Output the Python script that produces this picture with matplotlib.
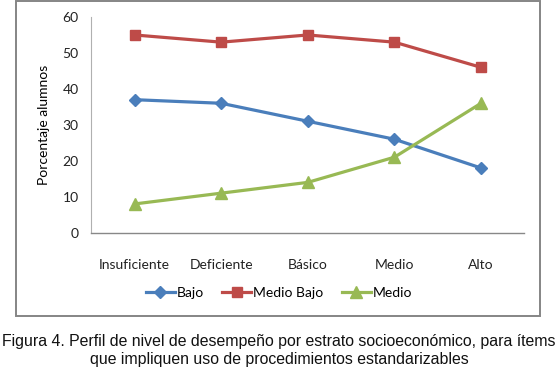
import matplotlib
matplotlib.use("Agg")
import matplotlib.pyplot as plt
from matplotlib.patches import Rectangle

categories = ["Insuficiente", "Deficiente", "Básico", "Medio", "Alto"]
bajo = [37, 36, 31, 26, 18]
medio_bajo = [55, 53, 55, 53, 46]
medio = [8, 11, 14, 21, 36]
y_ticks = [0, 10, 20, 30, 40, 50, 60]

FONT = ["Lato", "DejaVu Sans"]
CAP_FONT = ["Liberation Sans", "DejaVu Sans"]

fig = plt.figure(figsize=(5.58, 3.76), dpi=100)
fig.patch.set_facecolor("white")

# chart border box
fig.add_artist(Rectangle((0.0278, 0.1596), 0.9405, 0.8374, transform=fig.transFigure,
                         fill=False, edgecolor="#858585", linewidth=1.4, zorder=5))

ax = fig.add_axes([0.1636, 0.3811, 0.776, 0.5737])
x = list(range(len(categories)))
ax.plot(x, bajo, color="#4A7EBB", lw=2.3, marker="D", ms=6.5, label="Bajo", clip_on=False)
ax.plot(x, medio_bajo, color="#BE4B48", lw=2.3, marker="s", ms=7.5, label="Medio Bajo", clip_on=False)
ax.plot(x, medio, color="#98B954", lw=2.3, marker="^", ms=8, label="Medio", clip_on=False)

ax.set_xlim(-0.5, len(categories) - 0.5)
ax.set_ylim(0, 60)
ax.set_yticks(y_ticks)
ax.set_xticks(x)
ax.set_xticklabels(categories)
for s in ["top", "right"]:
    ax.spines[s].set_visible(False)
ax.spines["left"].set_color("#B0B0B0")
ax.spines["bottom"].set_color("#888888")
ax.spines["left"].set_linewidth(0.8)
ax.spines["bottom"].set_linewidth(1.0)
ax.tick_params(axis="both", length=0, labelsize=10, colors="#222222")
ax.tick_params(axis="y", pad=9)
ax.tick_params(axis="x", pad=19)
for lab in ax.get_xticklabels() + ax.get_yticklabels():
    lab.set_family(FONT)
ax.set_ylabel("Porcentaje alumnos", fontsize=10, family=FONT, color="black", labelpad=9)

fig.legend(loc="center", bbox_to_anchor=(0.5, 0.2207), ncol=3, frameon=False,
           prop={"family": FONT, "size": 10}, handlelength=2.1, handletextpad=0.15,
           columnspacing=1.3)

fig.text(0.5, 0.0905, "Figura 4. Perfil de nivel de desempeño por estrato socioeconómico, para ítems",
         ha="center", va="center", fontsize=11.4, family=CAP_FONT, color="#111111")
fig.text(0.5, 0.0426, "que impliquen uso de procedimientos estandarizables",
         ha="center", va="center", fontsize=11.4, family=CAP_FONT, color="#111111")

fig.savefig("out.png", dpi=100, facecolor="white")
